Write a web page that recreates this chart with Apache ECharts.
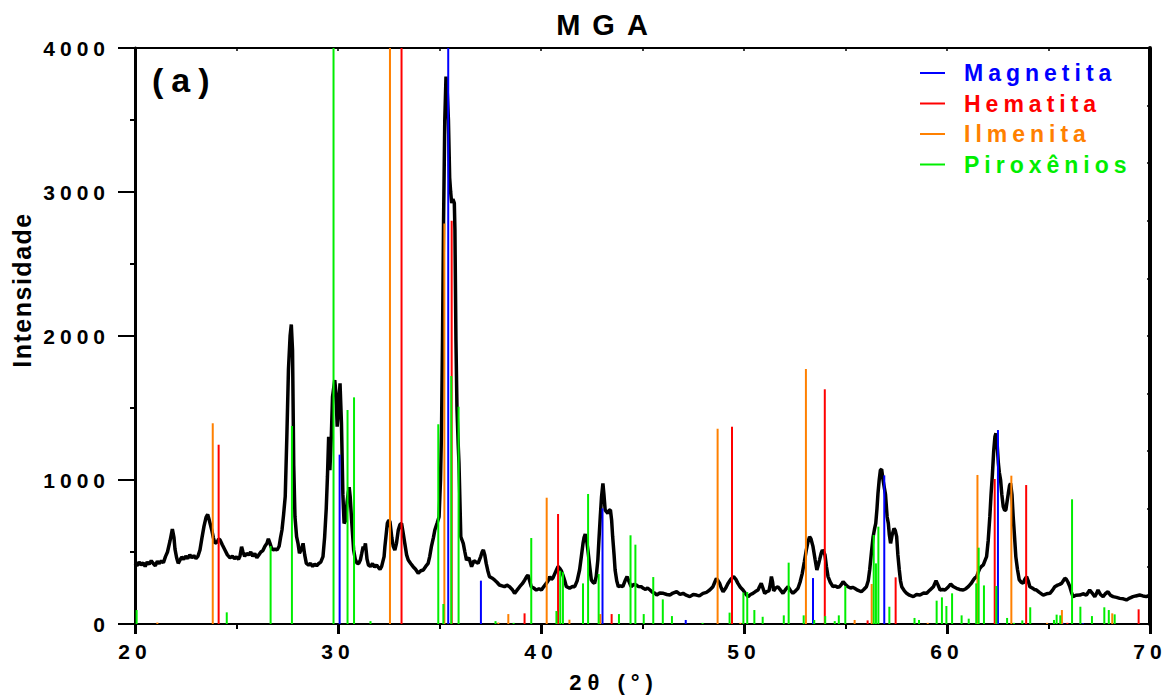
<!DOCTYPE html>
<html>
<head>
<meta charset="utf-8">
<script src="https://cdn.jsdelivr.net/npm/echarts/dist/echarts.min.js"></script>
<style>
html,body{margin:0;padding:0;background:#ffffff;}
#chart{width:1175px;height:699px;}
#chart svg text{letter-spacing:5px;}
#chart svg text[style*="29px"]{letter-spacing:12px;}
#chart svg text[style*="34px"]{letter-spacing:8px;}
#chart svg text[style*="22px"]{letter-spacing:6px;}
#chart svg text[style*="25px"]{letter-spacing:1.5px;}
</style>
</head>
<body>
<div id="chart"></div>
<script>
// ---- XRD pattern (black curve) ----
var curveX = [20.0,20.1,20.2,20.3,20.4,20.5,20.6,20.7,20.8,20.9,21.0,21.1,21.2,21.3,21.4,21.5,21.6,21.73,21.84,21.92,21.97,22.05,22.13,22.2,22.3,22.4,22.5,22.6,22.7,22.8,22.9,23.0,23.1,23.2,23.3,23.4,23.5,23.58,23.66,23.78,23.86,23.94,24.05,24.12,24.19,24.3,24.43,24.55,24.68,24.8,24.9,25.0,25.1,25.17,25.25,25.32,25.4,25.5,25.6,25.7,25.8,25.9,26.0,26.1,26.2,26.3,26.4,26.5,26.57,26.65,26.72,26.8,26.9,27.0,27.1,27.17,27.24,27.32,27.4,27.48,27.56,27.64,27.7,27.76,27.82,27.88,27.96,28.03,28.1,28.2,28.28,28.36,28.44,28.55,28.65,28.75,28.85,28.95,29.05,29.15,29.26,29.34,29.42,29.48,29.54,29.6,29.67,29.73,29.84,29.9,29.96,30.03,30.1,30.17,30.24,30.3,30.38,30.45,30.5,30.55,30.6,30.68,30.77,30.85,30.94,31.02,31.1,31.17,31.24,31.3,31.35,31.43,31.5,31.6,31.7,31.8,31.9,32.0,32.07,32.15,32.27,32.31,32.43,32.5,32.56,32.65,32.72,32.8,32.88,32.97,33.05,33.13,33.2,33.29,33.38,33.46,33.58,33.7,33.82,33.95,34.08,34.2,34.32,34.44,34.52,34.6,34.7,34.77,34.88,34.98,35.05,35.1,35.15,35.2,35.26,35.32,35.38,35.44,35.5,35.55,35.6,35.66,35.73,35.76,35.81,35.86,35.92,35.96,36.05,36.17,36.25,36.33,36.45,36.58,36.7,36.8,36.9,37.03,37.1,37.16,37.23,37.3,37.38,37.46,37.58,37.71,37.83,37.95,38.08,38.2,38.32,38.45,38.58,38.7,38.82,38.95,39.08,39.2,39.3,39.36,39.44,39.52,39.64,39.77,39.9,40.02,40.14,40.26,40.35,40.43,40.51,40.59,40.68,40.76,40.84,40.92,41.0,41.08,41.17,41.25,41.33,41.41,41.55,41.66,41.78,41.9,41.98,42.07,42.12,42.18,42.25,42.31,42.4,42.48,42.56,42.64,42.72,42.8,42.86,42.92,42.98,43.05,43.1,43.16,43.22,43.29,43.36,43.42,43.48,43.53,43.6,43.65,43.73,43.81,43.92,44.03,44.14,44.24,44.32,44.44,44.56,44.69,44.8,44.94,45.04,45.15,45.25,45.37,45.5,45.6,45.7,45.85,46.03,46.2,46.35,46.5,46.68,46.85,47.0,47.15,47.33,47.5,47.66,47.8,47.98,48.15,48.31,48.47,48.56,48.64,48.72,48.8,48.88,48.97,49.1,49.21,49.35,49.49,49.6,49.7,49.82,49.95,50.08,50.2,50.32,50.44,50.56,50.69,50.77,50.85,50.93,51.02,51.12,51.23,51.3,51.35,51.41,51.46,51.56,51.67,51.8,51.92,52.05,52.17,52.3,52.41,52.54,52.66,52.76,52.87,52.97,53.07,53.15,53.23,53.3,53.4,53.5,53.59,53.66,53.72,53.8,53.86,53.93,53.99,54.06,54.14,54.25,54.38,54.5,54.6,54.71,54.8,54.88,55.0,55.12,55.25,55.35,55.45,55.6,55.78,55.9,56.03,56.12,56.19,56.28,56.36,56.43,56.49,56.55,56.6,56.66,56.72,56.78,56.85,56.92,56.97,57.05,57.11,57.16,57.22,57.3,57.39,57.45,57.52,57.58,57.65,57.71,57.77,57.9,58.01,58.15,58.34,58.5,58.67,58.85,59.0,59.15,59.33,59.46,59.56,59.66,59.78,59.9,60.05,60.18,60.3,60.47,60.62,60.8,60.93,61.05,61.18,61.3,61.38,61.46,61.54,61.62,61.7,61.79,61.87,61.95,62.03,62.11,62.17,62.23,62.3,62.36,62.41,62.47,62.53,62.58,62.64,62.7,62.77,62.84,62.9,62.96,63.02,63.08,63.13,63.2,63.26,63.33,63.39,63.47,63.56,63.66,63.75,63.83,63.92,64.0,64.08,64.2,64.3,64.41,64.55,64.74,64.9,65.07,65.2,65.31,65.45,65.55,65.64,65.73,65.8,65.88,65.96,66.05,66.13,66.21,66.35,66.54,66.7,66.87,67.03,67.15,67.28,67.36,67.44,67.56,67.69,67.8,67.93,68.05,68.18,68.35,68.51,68.68,68.84,69.0,69.16,69.3,69.49,69.65,69.82,70.0];
var curveY = [420,405,430,410,425,400,430,415,440,420,405,435,420,440,425,468,500,580,660,600,520,460,421,440,465,450,470,455,480,460,475,455,470,514,600,680,740,761,720,653,600,560,570,590,583,550,514,480,460,470,455,465,450,470,537,500,470,490,480,500,470,490,460,480,500,510,540,560,592,560,530,514,520,514,540,600,653,760,884,1300,1770,2000,2080,1900,1100,745,606,560,491,520,560,480,421,410,420,400,415,405,420,430,468,600,800,1023,1300,1069,1300,1579,1694,1600,1370,1500,1671,1393,900,699,720,850,907,950,884,700,514,450,421,420,444,490,537,520,560,450,410,400,420,395,410,390,380,400,468,537,699,720,711,600,540,514,560,653,690,699,640,560,480,444,420,398,380,352,370,375,400,421,470,537,600,653,700,745,1000,1347,2000,2800,3500,3801,3700,3500,3100,3000,2923,2950,2923,2736,1972,1500,1250,1116,606,560,500,444,460,398,440,430,421,468,500,514,480,421,370,329,320,306,290,271,265,259,270,259,240,213,235,259,280,306,330,340,300,259,250,236,245,236,260,282,300,329,310,320,350,375,400,387,370,340,300,259,255,248,260,259,300,375,460,560,600,625,580,514,400,306,290,282,330,444,600,745,880,977,900,792,780,769,790,792,720,606,480,375,300,259,265,259,300,329,300,259,275,271,260,259,248,240,250,236,220,215,201,215,213,205,201,215,224,205,213,200,190,205,201,195,213,220,236,259,290,317,300,282,250,224,250,282,310,329,310,282,255,236,210,190,205,213,225,236,260,282,250,213,225,230,280,329,290,230,250,259,235,213,240,259,230,213,230,248,290,352,430,514,570,606,590,537,450,375,410,444,490,514,500,479,400,329,290,259,265,255,259,275,294,275,259,250,255,248,235,224,240,259,300,375,500,606,660,699,800,907,1000,1069,1075,1000,940,900,745,699,620,560,620,664,650,606,480,375,300,259,230,213,200,190,205,201,215,213,235,259,301,270,236,240,236,255,278,260,248,240,236,245,259,280,306,320,329,360,387,400,410,440,468,580,745,900,1023,1200,1300,1324,1250,1116,1050,1000,900,815,790,792,850,907,960,977,900,745,600,468,380,306,290,282,310,329,300,259,250,240,236,220,201,210,213,235,259,270,275,282,300,317,310,290,259,220,190,200,201,210,201,236,215,190,210,236,205,190,210,224,200,190,185,178,175,167,180,190,195,201,195,190,200];

// ---- Reference sticks (position 2θ, intensity) ----
var magX = [30.08,35.43,37.04,43.03,47.13,53.40,56.91,62.51,65.70,66.70];
var magY = [1176,4000,301,803,28,319,1032,1347,8,5];
var hemX = [24.12,33.13,35.60,39.19,40.84,43.48,49.41,53.98,56.09,57.47,62.35,63.90,65.93,69.44];
var hemY = [1245,4000,2801,74,764,69,1370,1630,25,324,1007,965,8,102];
var ilmX = [21.10,23.83,32.56,35.24,37.90,38.39,40.28,41.40,42.92,48.70,49.82,53.05,55.45,56.29,59.05,61.50,63.17,64.93,65.66,68.14];
var ilmY = [10,1394,4000,2782,10,69,877,30,69,1356,8,1771,28,278,8,1035,1030,8,97,74];
var pirX = [20.08,24.52,26.68,27.73,29.78,30.47,30.79,31.60,34.94,35.19,35.58,35.94,37.76,38.65,39.52,40.76,40.95,41.08,42.07,42.32,42.84,43.84,44.41,44.65,45.06,45.53,46.00,46.45,47.96,49.29,49.97,50.16,50.51,50.92,51.96,52.20,52.94,53.46,54.00,54.47,54.67,54.99,56.39,56.50,56.62,57.16,58.40,58.62,59.49,59.75,59.97,60.25,60.72,61.07,61.44,61.56,61.82,62.43,62.96,63.30,63.71,64.10,65.27,65.40,65.58,66.16,66.57,67.14,67.75,67.97,68.26];
var pirY = [97,81,541,1375,4000,1486,1574,20,1387,139,1722,1509,20,8,597,90,370,360,282,903,347,69,616,551,69,326,171,55,8,79,218,222,97,50,60,426,60,28,55,20,60,264,618,421,676,120,42,28,162,185,125,213,60,37,282,530,268,264,42,8,25,116,28,65,60,866,120,55,116,97,67];

// ---- Axis ticks ----
var xMin = 20, xMax = 70, xStep = 10;
var yMin = 0, yMax = 4000, yStep = 1000;

var FONT = '"Liberation Sans", Arial, sans-serif';

function zip(a, b) { return a.map(function (v, i) { return [v, b[i]]; }); }

function stickSeries(name, xs, ys, color) {
  return {
    name: name,
    type: 'custom',
    z: 3,
    clip: true,
    itemStyle: { color: color },
    data: zip(xs, ys),
    renderItem: function (params, api) {
      var x = api.value(0), h = api.value(1);
      var p0 = api.coord([x, 0]);
      var p1 = api.coord([x, Math.min(h, yMax)]);
      return {
        type: 'line',
        shape: { x1: p0[0], y1: p0[1], x2: p1[0], y2: p1[1] },
        style: { stroke: color, lineWidth: 2 }
      };
    }
  };
}

var chart = echarts.init(document.getElementById('chart'), null, { renderer: 'svg' });
var legendFont = { fontSize: 23, fontWeight: 'bold', fontFamily: FONT, lineHeight: 24, padding: [0, 0, 0, 14] };
var plain = function (v) { return String(v); };

chart.setOption({
  animation: false,
  backgroundColor: '#ffffff',
  grid: { left: 135, right: 25, top: 48, bottom: 75 },
  legend: {
    orient: 'vertical',
    left: 915,
    top: 56,
    itemWidth: 25,
    itemHeight: 2,
    itemGap: 6.5,
    icon: 'rect',
    textStyle: legendFont,
    data: [
      { name: 'Magnetita', textStyle: { color: '#0000ff' } },
      { name: 'Hematita', textStyle: { color: '#ff0000' } },
      { name: 'Ilmenita', textStyle: { color: '#ff8000' } },
      { name: 'Piroxênios', textStyle: { color: '#00ee00' } }
    ]
  },
  xAxis: [
    {
      type: 'value', position: 'bottom', min: xMin, max: xMax, interval: xStep,
      axisLine: { show: true, onZero: false, lineStyle: { color: '#000', width: 2 } },
      axisTick: { show: true, inside: false, length: 10, lineStyle: { color: '#000', width: 3 } },
      minorTick: { show: true, splitNumber: 2, length: 5, lineStyle: { color: '#000', width: 2 } },
      splitLine: { show: false },
      axisLabel: { margin: 17, color: '#000', fontSize: 21, fontWeight: 'bold', fontFamily: FONT, formatter: plain }
    },
    {
      type: 'value', position: 'top', min: xMin, max: xMax, interval: 5,
      axisLine: { show: true, onZero: false, lineStyle: { color: '#000', width: 2 } },
      axisTick: { show: true, inside: true, length: 3, lineStyle: { color: '#000', width: 1.5 } },
      splitLine: { show: false },
      axisLabel: { show: false }
    }
  ],
  yAxis: [
    {
      type: 'value', position: 'left', min: yMin, max: yMax, interval: yStep,
      axisLine: { show: true, onZero: false, lineStyle: { color: '#000', width: 3 } },
      axisTick: { show: true, inside: false, length: 17, lineStyle: { color: '#000', width: 2 } },
      minorTick: { show: true, splitNumber: 2, length: 5, lineStyle: { color: '#000', width: 2 } },
      splitLine: { show: false },
      axisLabel: { margin: 25, color: '#000', fontSize: 21, fontWeight: 'bold', fontFamily: FONT, formatter: plain }
    },
    {
      type: 'value', position: 'right', min: yMin, max: yMax, interval: 400,
      axisLine: { show: true, onZero: false, lineStyle: { color: '#000', width: 4 } },
      axisTick: { show: true, inside: true, length: 3, lineStyle: { color: '#000', width: 1.5 } },
      splitLine: { show: false },
      axisLabel: { show: false }
    }
  ],
  graphic: [
    { type: 'text', x: 608, y: 25, style: { text: 'MGA', font: 'bold 29px ' + FONT, fill: '#000', textAlign: 'center', textVerticalAlign: 'middle' } },
    { type: 'text', x: 152, y: 80, style: { text: '(a)', font: 'bold 34px ' + FONT, fill: '#000', textAlign: 'left', textVerticalAlign: 'middle' } },
    { type: 'text', x: 614, y: 682, style: { text: '2θ (°)', font: 'bold 22px ' + FONT, fill: '#000', textAlign: 'center', textVerticalAlign: 'middle' } },
    { type: 'text', x: 22, y: 290, rotation: Math.PI / 2, style: { text: 'Intensidade', font: 'bold 25px ' + FONT, fill: '#000', textAlign: 'center', textVerticalAlign: 'middle' } }
  ],
  series: [
    {
      name: 'MGA', type: 'line', z: 2, showSymbol: false, symbol: 'none', clip: true,
      lineStyle: { color: '#000', width: 3.5 },
      itemStyle: { color: '#000' },
      data: zip(curveX, curveY)
    },
    stickSeries('Magnetita', magX, magY, '#0000ff'),
    stickSeries('Hematita', hemX, hemY, '#ff0000'),
    stickSeries('Ilmenita', ilmX, ilmY, '#ff8000'),
    stickSeries('Piroxênios', pirX, pirY, '#00ee00')
  ]
});
</script>
</body>
</html>
